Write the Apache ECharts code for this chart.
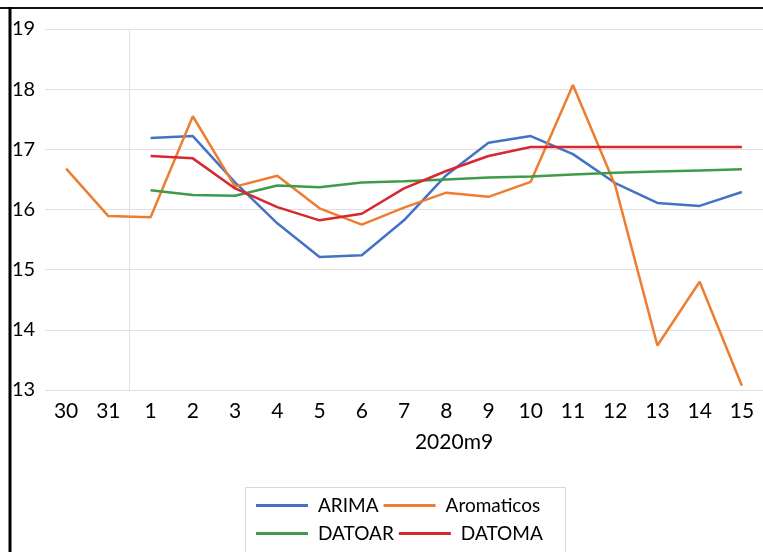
<!DOCTYPE html>
<html>
<head>
<meta charset="utf-8">
<script src="https://cdn.jsdelivr.net/npm/echarts@6/dist/echarts.min.js"></script>
<style>html,body{margin:0;padding:0;background:#fff}#c{width:763px;height:552px}</style>
</head>
<body>
<div id="c"></div>
<script>
const categories = ['30','31','1','2','3','4','5','6','7','8','9','10','11','12','13','14','15'];
const groupLabel = '2020m9';
const arima = [null,null,17.19,17.22,16.45,15.77,15.21,15.24,15.82,16.57,17.11,17.22,16.92,16.44,16.11,16.06,16.29];
const aromaticos = [16.68,15.89,15.87,17.55,16.38,16.56,16.02,15.75,16.03,16.28,16.21,16.46,18.07,16.40,13.74,14.80,13.07];
const datoar = [null,null,16.32,16.24,16.23,16.40,16.37,16.45,16.47,16.50,16.53,16.55,16.58,16.61,16.63,16.65,16.67];
const datoma = [null,null,16.89,16.85,16.35,16.04,15.82,15.93,16.35,16.64,16.89,17.04,17.04,17.04,17.04,17.04,17.04];
const yTicks = {min:13, max:19, interval:1};

const FONT = 'Lato';
const chart = echarts.init(document.getElementById('c'), null, {renderer:'canvas'});
function mk(name, data, color){
  return {name, type:'line', data, symbol:'none', showSymbol:false, connectNulls:false,
    lineStyle:{width:2.5, color}, itemStyle:{color}, emphasis:{disabled:true}};
}
const legendCommon = {
  left:256, padding:0, icon:'rect', itemWidth:52, itemHeight:3, itemGap:5,
  textStyle:{fontFamily:FONT, fontSize:19, color:'#000', width:71, padding:[0,0,0,5]},
  selectedMode:false
};
chart.setOption({
  animation:false,
  backgroundColor:'#fff',
  grid:{left:45, right:-3, top:29, bottom:162, containLabel:false},
  xAxis:{type:'category', data:categories, boundaryGap:true,
    axisLine:{show:false}, axisTick:{show:false},
    axisLabel:{fontFamily:FONT, fontSize:21, color:'#000', margin:11, interval:0},
    splitLine:{show:false}
  },
  yAxis:{type:'value', min:yTicks.min, max:yTicks.max, interval:yTicks.interval,
    axisLine:{show:false}, axisTick:{show:false},
    axisLabel:{fontFamily:FONT, fontSize:20, color:'#000', align:'left', margin:33},
    splitLine:{lineStyle:{color:'#e0e0e0', width:1}}
  },
  legend:[
    Object.assign({}, legendCommon, {top:496, data:['ARIMA','Aromaticos']}),
    Object.assign({}, legendCommon, {top:524, data:['DATOAR','DATOMA']})
  ],
  graphic:[
    {type:'text', style:{text:groupLabel, x:454, y:442, fontFamily:FONT, fontSize:21, fill:'#000', textAlign:'center', textVerticalAlign:'middle'}},
    {type:'rect', shape:{x:245.5, y:487.5, width:320, height:80}, style:{fill:'none', stroke:'#d9d9d9', lineWidth:1}, z:-1},
    {type:'line', shape:{x1:0, y1:8, x2:763, y2:8}, style:{stroke:'#111', lineWidth:2}},
    {type:'line', shape:{x1:10, y1:7, x2:10, y2:552}, style:{stroke:'#000', lineWidth:3}}
  ],
  series:[
    mk('ARIMA', arima, '#4472C4'),
    mk('Aromaticos', aromaticos, '#ED7D31'),
    mk('DATOAR', datoar, '#3E9B4A'),
    mk('DATOMA', datoma, '#D7282F')
  ]
});
// month separator between category '31' and '1', placed via the axis scale
const p1 = chart.convertToPixel({xAxisIndex:0}, categories[1]);
const p2 = chart.convertToPixel({xAxisIndex:0}, categories[2]);
const yTop = chart.convertToPixel({yAxisIndex:0}, yTicks.max);
const yBot = chart.convertToPixel({yAxisIndex:0}, yTicks.min);
const sx = Math.round((p1 + p2) / 2) + 0.5;
chart.setOption({graphic:[{type:'line', id:'sep', shape:{x1:sx, y1:yTop, x2:sx, y2:yBot}, style:{stroke:'#e0e0e0', lineWidth:1}, z:0}]});
</script>
</body>
</html>
